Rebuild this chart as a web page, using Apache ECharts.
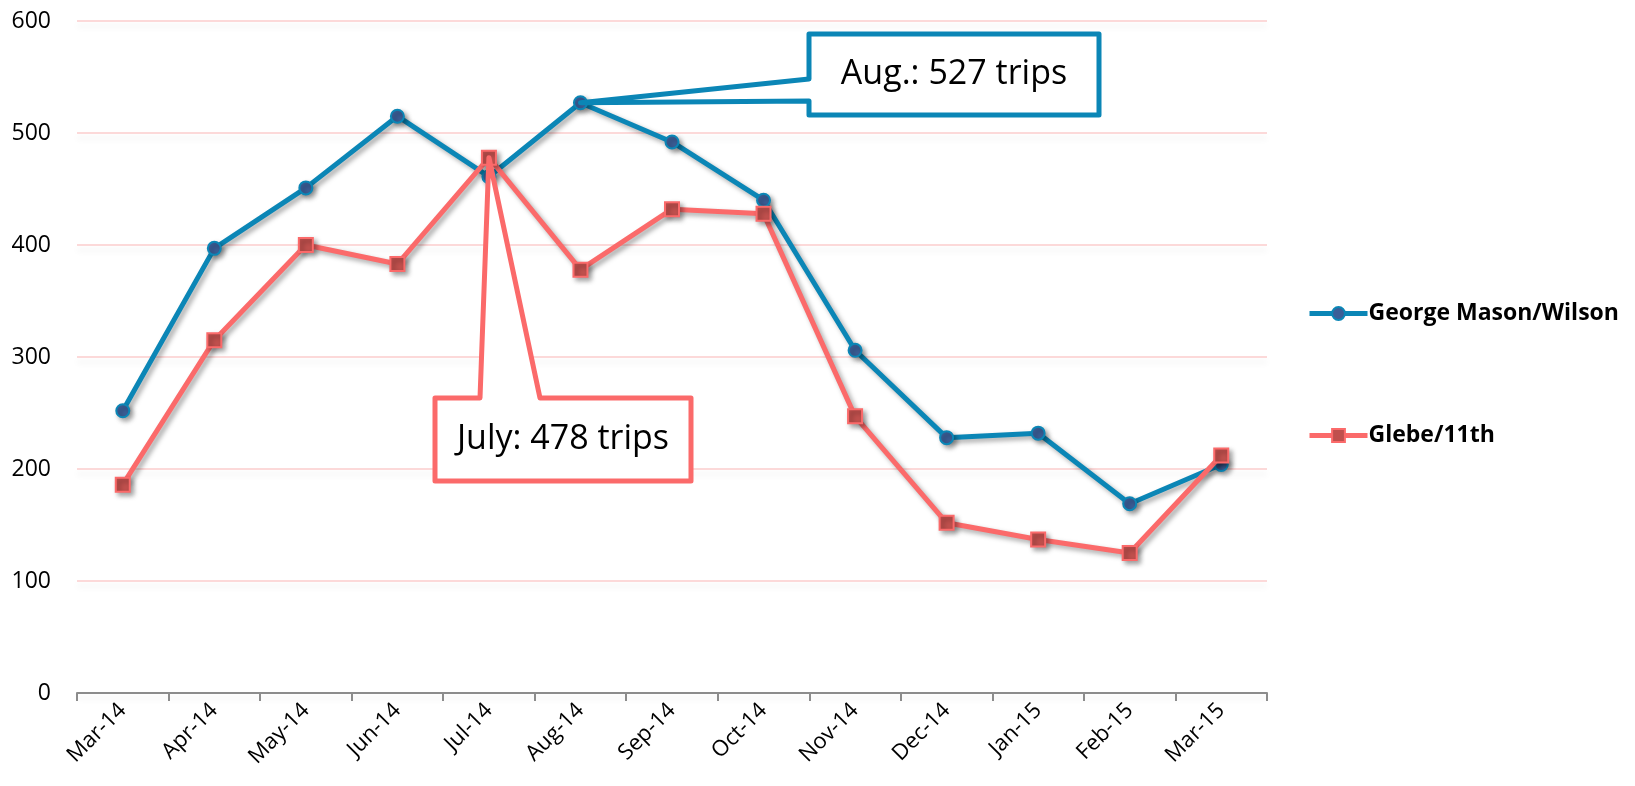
<!DOCTYPE html>
<html>
<head>
<meta charset="utf-8">
<script src="https://cdn.jsdelivr.net/npm/echarts@6/dist/echarts.min.js"></script>
<style>
  html, body { margin: 0; padding: 0; background: #fff; }
  #chart { width: 1635px; height: 786px; }
</style>
</head>
<body>
<div id="chart"></div>
<script>
const MONTHS = ['Mar-14', 'Apr-14', 'May-14', 'Jun-14', 'Jul-14', 'Aug-14', 'Sep-14',
  'Oct-14', 'Nov-14', 'Dec-14', 'Jan-15', 'Feb-15', 'Mar-15'];
const GEORGE_MASON = [252, 397, 451, 515, 461, 527, 492, 440, 306, 228, 232, 169, 204];
const GLEBE = [186, 315, 400, 383, 478, 378, 432, 428, 247, 152, 137, 125, 212];
const Y_TICKS = [0, 100, 200, 300, 400, 500, 600];

const BLUE = '#0b86b6';
const RED = '#fb6a6a';
const FONT = '"Open Sans", "Noto Sans", sans-serif';

const chart = echarts.init(document.getElementById('chart'));

const lineShadow = {
  shadowColor: 'rgba(0,0,0,0.35)',
  shadowBlur: 5,
  shadowOffsetX: 3,
  shadowOffsetY: 3,
};

const option = {
  backgroundColor: '#fff',
  animation: false,
  grid: { left: 77, right: 368, top: 21, bottom: 93 },
  legend: {
    orient: 'vertical',
    left: 1302,
    top: 297,
    itemWidth: 58,
    itemHeight: 16,
    itemGap: 99,
    lineStyle: { width: 5, shadowBlur: 0, shadowOffsetX: 0, shadowOffsetY: 0 },
    itemStyle: { shadowBlur: 0, shadowOffsetX: 0, shadowOffsetY: 0 },
    textStyle: { fontFamily: FONT, fontSize: 23, fontWeight: 'bold', color: '#000', padding: [0, 0, 0, -4] },
    data: ['George Mason/Wilson', 'Glebe/11th'],
  },
  xAxis: {
    type: 'category',
    data: MONTHS,
    boundaryGap: true,
    axisLine: { lineStyle: { color: '#8c8c8c', width: 2 } },
    axisTick: { show: true, length: 8, interval: 0, lineStyle: { color: '#8c8c8c', width: 2 } },
    axisLabel: {
      interval: 0,
      rotate: 45,
      margin: 14,
      fontFamily: FONT,
      fontSize: 22,
      color: '#000',
    },
  },
  yAxis: {
    type: 'value',
    min: Y_TICKS[0],
    max: Y_TICKS[Y_TICKS.length - 1],
    interval: 100,
    axisLine: { show: false },
    axisTick: { show: false },
    axisLabel: { fontFamily: FONT, fontSize: 23, color: '#000', margin: 26 },
    splitLine: {
      lineStyle: {
        color: '#fcd9d9',
        width: 2,
        shadowColor: 'rgba(0,0,0,0.08)',
        shadowBlur: 6,
        shadowOffsetY: 5,
      },
    },
  },
  series: [
    {
      name: 'George Mason/Wilson',
      type: 'line',
      data: GEORGE_MASON,
      symbol: 'circle',
      symbolSize: 13,
      z: 3,
      color: BLUE,
      lineStyle: Object.assign({ color: BLUE, width: 5 }, lineShadow),
      itemStyle: Object.assign({ color: '#3b5e97', borderColor: BLUE, borderWidth: 2 }, lineShadow),
    },
    {
      name: 'Glebe/11th',
      type: 'line',
      data: GLEBE,
      symbol: 'rect',
      symbolSize: 14,
      z: 4,
      color: RED,
      lineStyle: Object.assign({ color: RED, width: 5 }, lineShadow),
      itemStyle: Object.assign({ color: '#c0504d', borderColor: RED, borderWidth: 2 }, lineShadow),
    },
  ],
};

chart.setOption(option);

// callout boxes anchored to the data points
function callout(seriesIndex, dataIndex, box, wedge, text, color) {
  const series = seriesIndex === 0 ? GEORGE_MASON : GLEBE;
  const p = chart.convertToPixel({ seriesIndex: seriesIndex }, [dataIndex, series[dataIndex]]);
  const [x0, y0, x1, y1] = box;
  let pts;
  if (wedge.side === 'left') {
    pts = [[x0, y0], [x1, y0], [x1, y1], [x0, y1], [x0, wedge.b], p, [x0, wedge.a]];
  } else {
    pts = [[x0, y0], [wedge.a, y0], p, [wedge.b, y0], [x1, y0], [x1, y1], [x0, y1]];
  }
  return [
    {
      type: 'polygon',
      z: 100,
      shape: { points: pts },
      style: { fill: '#fff', stroke: color, lineWidth: 5, lineJoin: 'round' },
    },
    {
      type: 'text',
      z: 101,
      x: (x0 + x1) / 2,
      y: (y0 + y1) / 2,
      style: {
        text: text,
        fill: '#000',
        font: '34px ' + FONT,
        align: 'center',
        verticalAlign: 'middle',
      },
    },
  ];
}

chart.setOption({
  graphic: [].concat(
    callout(0, 5, [809, 34, 1099, 115], { side: 'left', a: 79, b: 101 }, 'Aug.: 527 trips', BLUE),
    callout(1, 4, [435, 398, 691, 481], { side: 'top', a: 480, b: 540 }, 'July: 478 trips', RED)
  ),
});
</script>
</body>
</html>
